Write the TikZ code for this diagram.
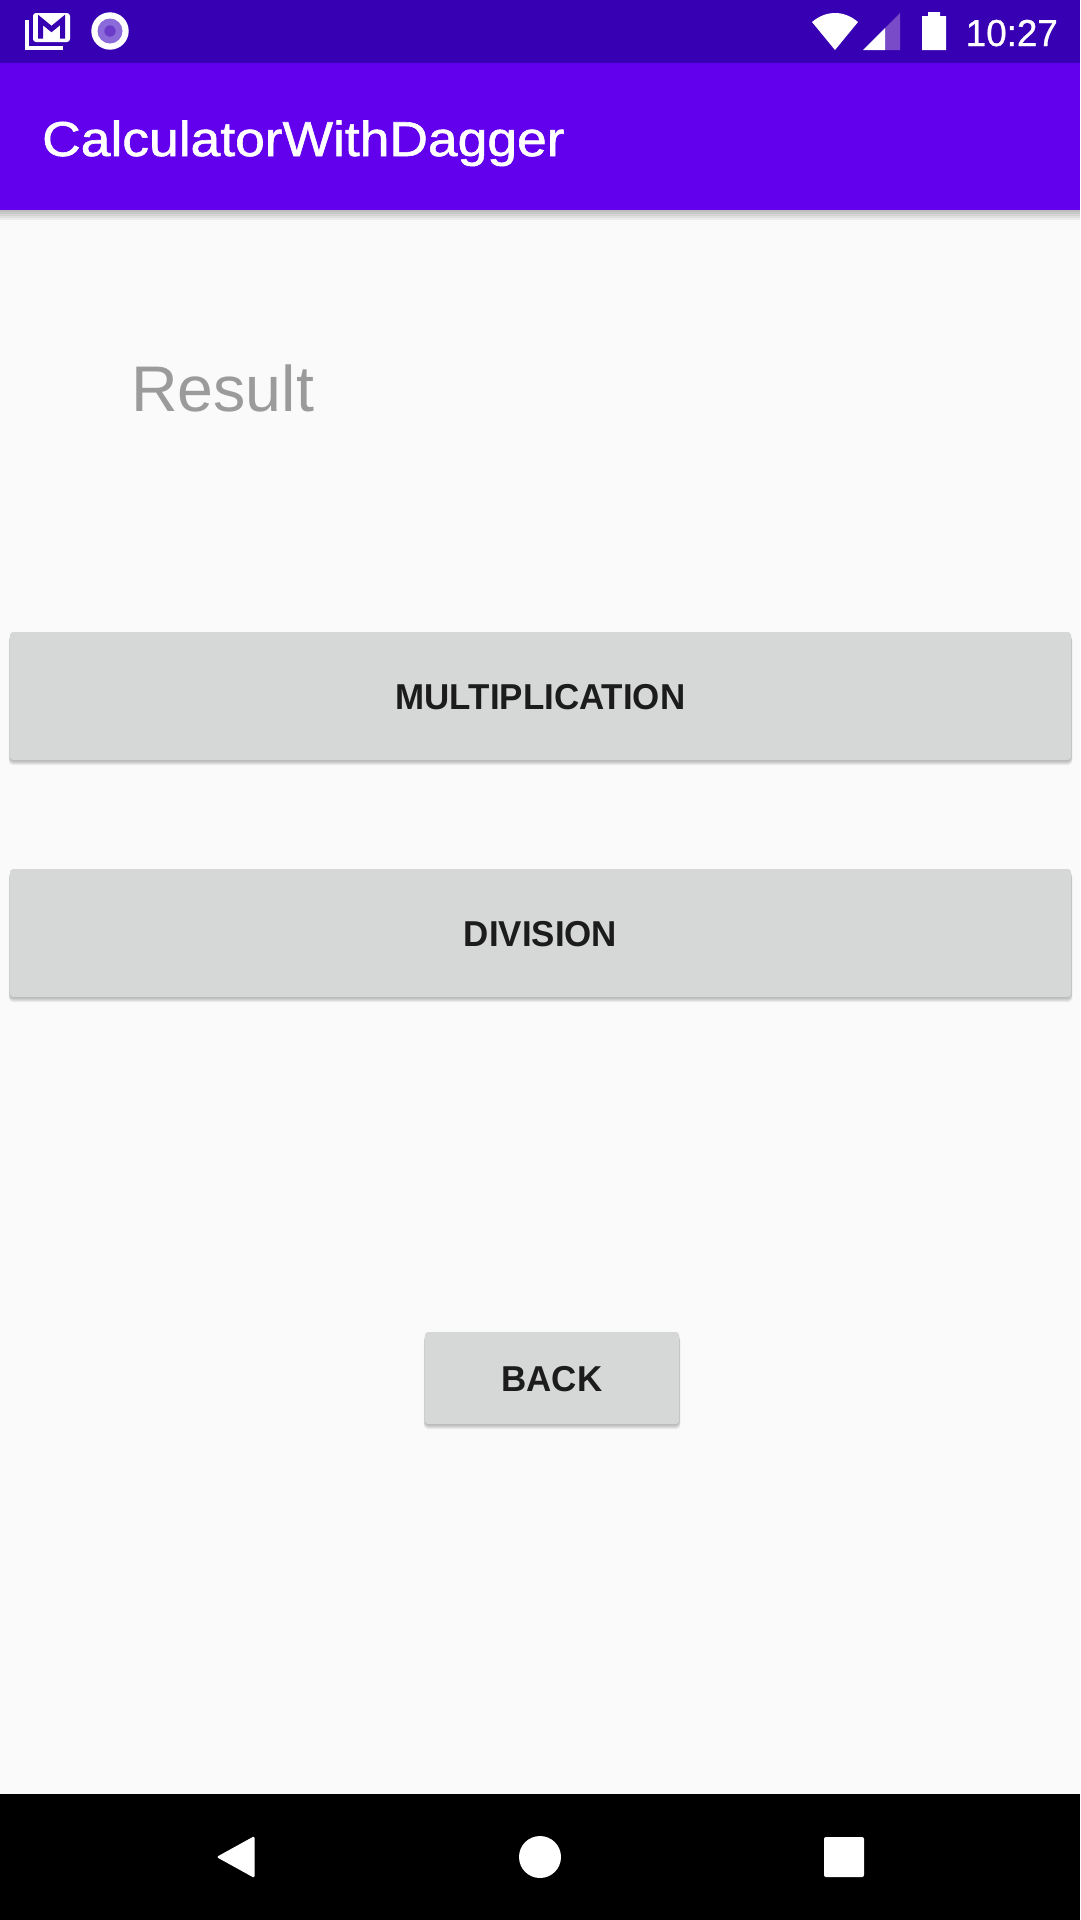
\documentclass[tikz,border=0pt]{standalone}
\usepackage{fontspec}
\setmainfont{Liberation Sans}
\newfontfamily\titlefont[FakeStretch=1.09,FakeBold=1.2]{Liberation Sans}
\newfontfamily\buttonfont[FakeStretch=0.97]{Liberation Sans Bold}
\newfontfamily\clockfont[FakeStretch=0.98,FakeBold=0.8]{Liberation Sans}
\usetikzlibrary{positioning}
\pgfdeclarelayer{canvas}
\pgfdeclarelayer{background}
\pgfsetlayers{canvas,background,main}
\definecolor{statuscol}{HTML}{3700B3}
\definecolor{barcol}{HTML}{6200EE}
\definecolor{pagecol}{HTML}{FAFAFA}
\definecolor{buttoncol}{HTML}{D6D7D7}
\definecolor{inkcol}{HTML}{1C1C1C}
\definecolor{hintcol}{HTML}{9B9B9B}
\definecolor{ringcol}{HTML}{8A6BD9}
\definecolor{dotcol}{HTML}{6A3CC8}
\definecolor{signalcol}{HTML}{7A4BC9}
\begin{document}
\begin{tikzpicture}[
	x=1pt, y=-1pt,
	band/.style={rectangle, inner sep=0pt, minimum width=1080pt},
	buttonnode/.style={rectangle, fill=buttoncol, rounded corners=3pt, inner sep=0pt, text=inkcol, text height=28pt, font=\fontsize{36}{37}\buttonfont},
	softshadow/.style={fill=black, fill opacity=0.06, rounded corners=4pt},
	]
	\useasboundingbox (0,0) rectangle (1080,1920);
	%Bands
	\node[band, fill=statuscol, minimum height=63pt] (status) at (540,31.5) {};
	\node[band, fill=barcol, minimum height=147pt] (appbar) at (540,136.5) {};
	\node[band, fill=black, minimum height=126pt] (navbar) at (540,1857) {};
	%Texts
	\node[anchor=base west, inner sep=0pt, text=white, font=\fontsize{49}{49}\titlefont] (title) at (42,156) {CalculatorWithDagger};
	\node[anchor=base west, inner sep=0pt, text=hintcol, font=\fontsize{64.5}{65}\selectfont] (result) at (131,411) {Result};
	\node[anchor=base east, inner sep=0pt, text=white, font=\fontsize{37.5}{38}\clockfont] (clock) at (1058,46) {10:27};
	%Buttons
	\node[buttonnode, minimum width=1061pt, minimum height=128pt] (multiplication) at (540.5,696) {MULTIPLICATION};
	\node[buttonnode, minimum width=1061pt, minimum height=128pt] (division) at (540.5,933) {DIVISION};
	\node[buttonnode, minimum width=254pt, minimum height=92pt] (back) at (552,1378) {BACK};
	%Status icons
	\draw[white, line width=3.5pt] (27,20) -- (27,48) -- (62.5,48);
	\fill[white, rounded corners=3pt] (33,13) rectangle (70,42);
	\draw[statuscol, line width=5pt] (40.5,38.5) -- (40.5,20) -- (51.5,29) -- (62.5,20) -- (62.5,38.5);
	\fill[white] (110,31) circle (18.7);
	\fill[ringcol] (110,31) circle (12.5);
	\fill[dotcol] (110,31) circle (5.7);
	\fill[white] (812,22) .. controls (826,10) and (844,10) .. (858,22) -- (835,50) -- cycle;
	\fill[signalcol] (885,50) -- (885,28) -- (900,13) -- (900,50) -- cycle;
	\fill[white] (863,50) -- (885,28) -- (885,50) -- cycle;
	\fill[white] (922,16) -- (928,16) -- (928,12) -- (940,12) -- (940,16) -- (946,16) -- (946,50) -- (922,50) -- cycle;
	%Navigation icons
	\fill[white, rounded corners=2pt] (254.5,1836) -- (254.5,1878) -- (216.5,1857) -- cycle;
	\fill[white] (540,1857) circle (21);
	\fill[white, rounded corners=2pt] (824,1837) rectangle (864,1877);
	\begin{pgfonlayer}{canvas}
	\node[band, fill=pagecol, minimum height=1920pt] (page) at (540,960) {};
	\end{pgfonlayer}
	\begin{pgfonlayer}{background}
	%Shadows
	\foreach \i in {1,...,5} {
		\fill[black, fill opacity=0.05] (0,210) rectangle (1080,210+2*\i);
		\fill[softshadow] (10-\i/4,632+\i) rectangle (1071+\i/4,760+\i);
		\fill[softshadow] (10-\i/4,869+\i) rectangle (1071+\i/4,997+\i);
		\fill[softshadow] (425-\i/4,1332+\i) rectangle (679+\i/4,1424+\i);
	}
	\end{pgfonlayer}
\end{tikzpicture}
\end{document}
